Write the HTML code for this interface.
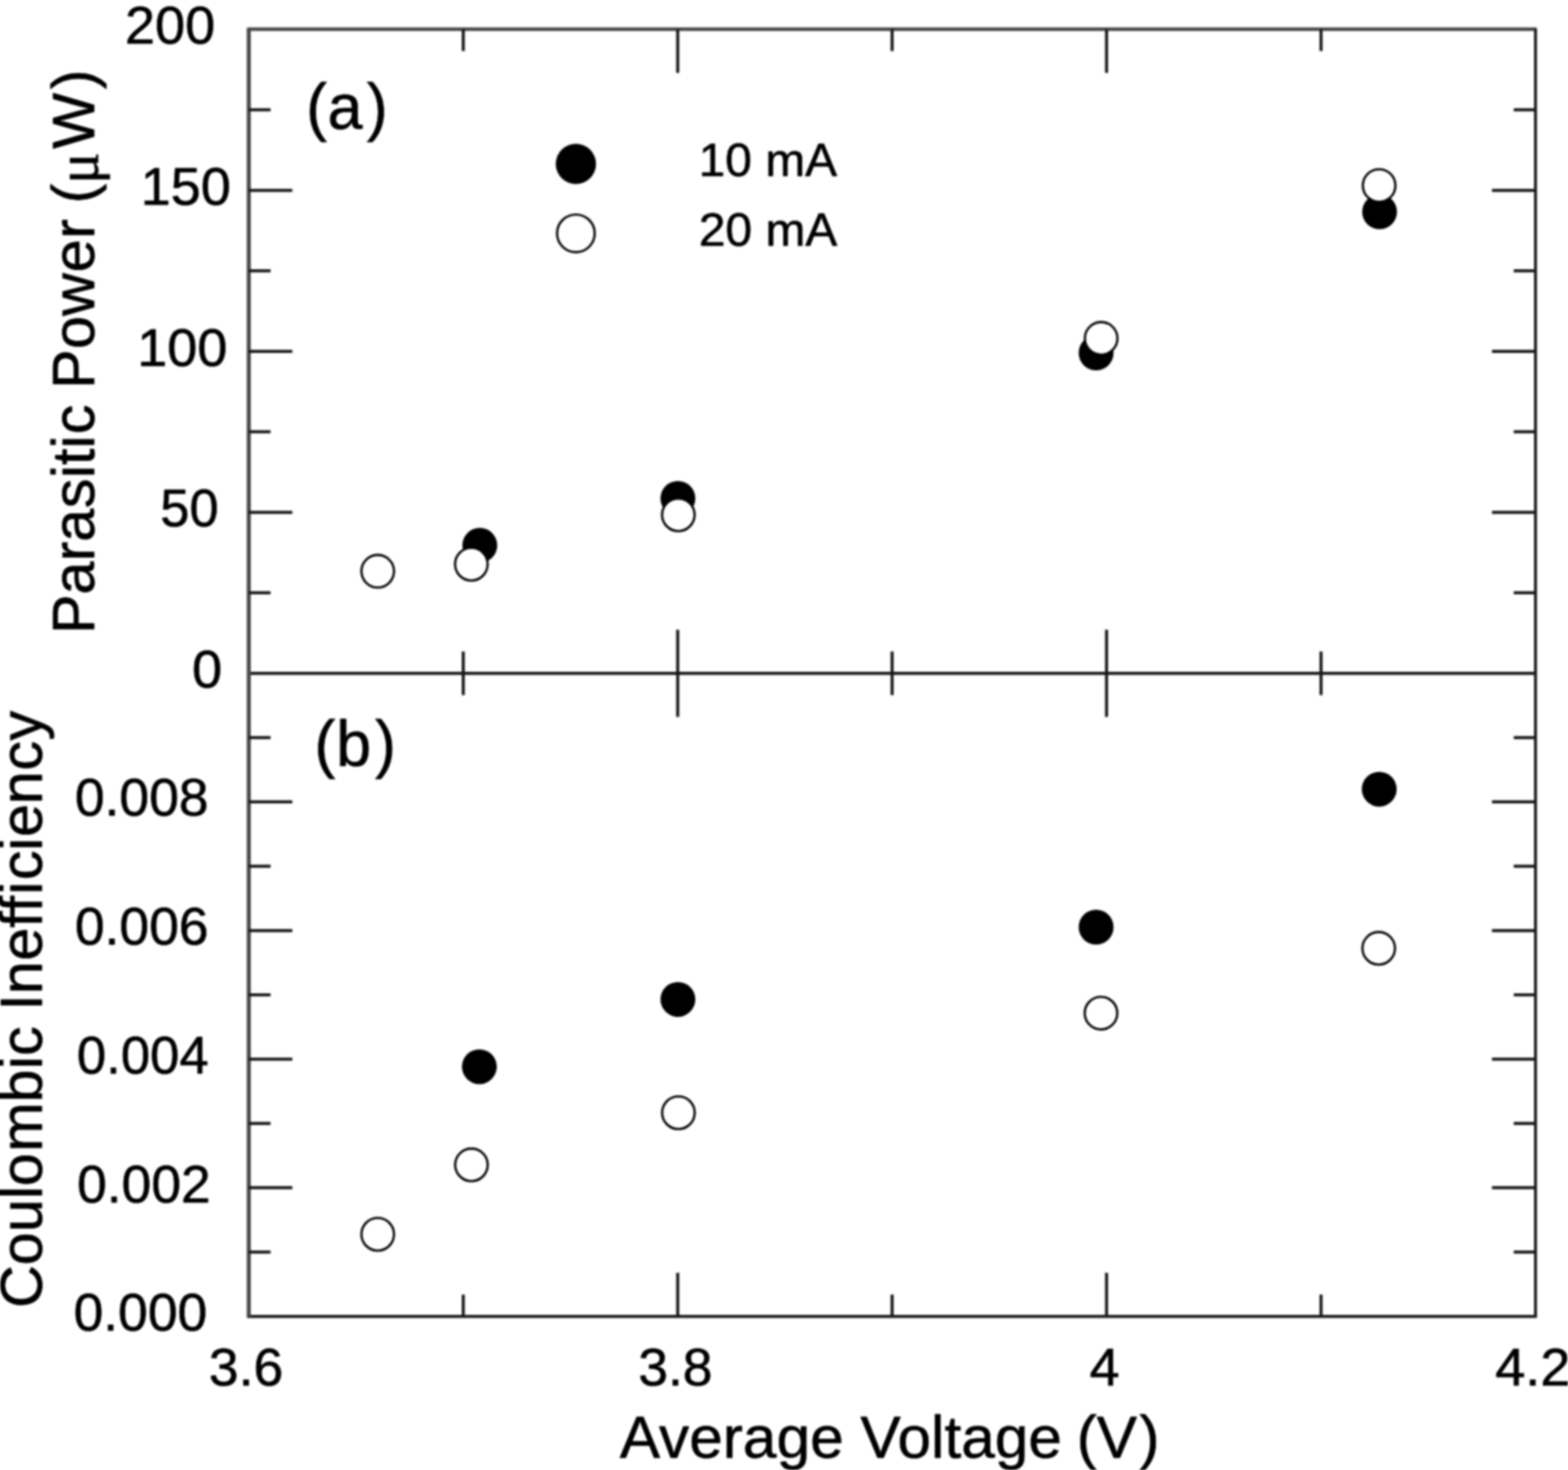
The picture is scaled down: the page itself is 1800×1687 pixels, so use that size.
<!DOCTYPE html>
<html lang="en">
<head>
<meta charset="utf-8">
<title>Parasitic Power and Coulombic Inefficiency vs Average Voltage</title>
<style>
html, body { margin: 0; padding: 0; background: #fff; }
body { width: 1800px; height: 1687px; overflow: hidden; }
svg { display: block; }
text { font-family: "Liberation Sans", sans-serif; fill: #000; stroke: #000; stroke-width: 0.7px; stroke-linejoin: round; }
</style>
</head>
<body>
<svg width="1800" height="1687" viewBox="0 0 1800 1687" role="img" aria-label="Parasitic power and coulombic inefficiency versus average voltage for 10 mA and 20 mA">
<defs>
<filter id="soft" color-interpolation-filters="sRGB" filterUnits="userSpaceOnUse" x="-20" y="-20" width="1840" height="1727">
<feGaussianBlur stdDeviation="0.8"/>
</filter>
</defs>
<rect x="-20" y="-20" width="1840" height="1727" fill="#fff"/>
<g filter="url(#soft)">
<rect x="-20" y="-20" width="1840" height="1727" fill="#fff"/>
<g stroke="#161616" stroke-width="3.5" fill="none" stroke-linecap="butt">
<line x1="283.6" y1="33.6" x2="1764.2" y2="33.6" stroke-width="4.0" stroke="#444"/>
<line x1="285.6" y1="772.7" x2="1762.7" y2="772.7" stroke-width="3.5" stroke="#141414"/>
<line x1="283.6" y1="1510.7" x2="1764.3" y2="1510.7" stroke-width="3.4" stroke="#181818"/>
<line x1="285.6" y1="33.6" x2="285.6" y2="1510.7" stroke-width="4.6" stroke="#484848"/>
<line x1="1762.7" y1="33.6" x2="1762.7" y2="1510.7" stroke-width="3.4" stroke="#181818"/>
<line x1="531.8" y1="33.6" x2="531.8" y2="58.6"/>
<line x1="531.8" y1="747.7" x2="531.8" y2="797.7"/>
<line x1="531.8" y1="1485.7" x2="531.8" y2="1510.7"/>
<line x1="778.0" y1="33.6" x2="778.0" y2="83.6"/>
<line x1="778.0" y1="722.7" x2="778.0" y2="822.7"/>
<line x1="778.0" y1="1460.7" x2="778.0" y2="1510.7"/>
<line x1="1024.1" y1="33.6" x2="1024.1" y2="58.6"/>
<line x1="1024.1" y1="747.7" x2="1024.1" y2="797.7"/>
<line x1="1024.1" y1="1485.7" x2="1024.1" y2="1510.7"/>
<line x1="1270.3" y1="33.6" x2="1270.3" y2="83.6"/>
<line x1="1270.3" y1="722.7" x2="1270.3" y2="822.7"/>
<line x1="1270.3" y1="1460.7" x2="1270.3" y2="1510.7"/>
<line x1="1516.5" y1="33.6" x2="1516.5" y2="58.6"/>
<line x1="1516.5" y1="747.7" x2="1516.5" y2="797.7"/>
<line x1="1516.5" y1="1485.7" x2="1516.5" y2="1510.7"/>
<line x1="285.6" y1="680.3" x2="310.6" y2="680.3"/>
<line x1="1737.7" y1="680.3" x2="1762.7" y2="680.3"/>
<line x1="285.6" y1="587.9" x2="335.6" y2="587.9"/>
<line x1="1712.7" y1="587.9" x2="1762.7" y2="587.9"/>
<line x1="285.6" y1="495.5" x2="310.6" y2="495.5"/>
<line x1="1737.7" y1="495.5" x2="1762.7" y2="495.5"/>
<line x1="285.6" y1="403.2" x2="335.6" y2="403.2"/>
<line x1="1712.7" y1="403.2" x2="1762.7" y2="403.2"/>
<line x1="285.6" y1="310.8" x2="310.6" y2="310.8"/>
<line x1="1737.7" y1="310.8" x2="1762.7" y2="310.8"/>
<line x1="285.6" y1="218.4" x2="335.6" y2="218.4"/>
<line x1="1712.7" y1="218.4" x2="1762.7" y2="218.4"/>
<line x1="285.6" y1="126.0" x2="310.6" y2="126.0"/>
<line x1="1737.7" y1="126.0" x2="1762.7" y2="126.0"/>
<line x1="285.6" y1="1436.9" x2="310.6" y2="1436.9"/>
<line x1="1737.7" y1="1436.9" x2="1762.7" y2="1436.9"/>
<line x1="285.6" y1="1363.1" x2="335.6" y2="1363.1"/>
<line x1="1712.7" y1="1363.1" x2="1762.7" y2="1363.1"/>
<line x1="285.6" y1="1289.3" x2="310.6" y2="1289.3"/>
<line x1="1737.7" y1="1289.3" x2="1762.7" y2="1289.3"/>
<line x1="285.6" y1="1215.5" x2="335.6" y2="1215.5"/>
<line x1="1712.7" y1="1215.5" x2="1762.7" y2="1215.5"/>
<line x1="285.6" y1="1141.7" x2="310.6" y2="1141.7"/>
<line x1="1737.7" y1="1141.7" x2="1762.7" y2="1141.7"/>
<line x1="285.6" y1="1067.9" x2="335.6" y2="1067.9"/>
<line x1="1712.7" y1="1067.9" x2="1762.7" y2="1067.9"/>
<line x1="285.6" y1="994.1" x2="310.6" y2="994.1"/>
<line x1="1737.7" y1="994.1" x2="1762.7" y2="994.1"/>
<line x1="285.6" y1="920.3" x2="335.6" y2="920.3"/>
<line x1="1712.7" y1="920.3" x2="1762.7" y2="920.3"/>
<line x1="285.6" y1="846.5" x2="310.6" y2="846.5"/>
<line x1="1737.7" y1="846.5" x2="1762.7" y2="846.5"/>
</g>
<g>
<circle cx="550.8" cy="625.8" r="20.0" fill="#000"/>
<circle cx="778.2" cy="572.0" r="20.0" fill="#000"/>
<circle cx="1258.3" cy="405.0" r="20.0" fill="#000"/>
<circle cx="1583.7" cy="243.1" r="20.0" fill="#000"/>
<circle cx="550.3" cy="1224.2" r="20.0" fill="#000"/>
<circle cx="778.2" cy="1146.9" r="20.0" fill="#000"/>
<circle cx="1258.3" cy="1064.0" r="20.0" fill="#000"/>
<circle cx="1583.3" cy="905.7" r="20.0" fill="#000"/>
<circle cx="433.6" cy="655.6" r="18.7" fill="#fff" stroke="#000" stroke-width="2.6"/>
<circle cx="541.1" cy="647.5" r="18.7" fill="#fff" stroke="#000" stroke-width="2.6"/>
<circle cx="778.7" cy="590.8" r="18.7" fill="#fff" stroke="#000" stroke-width="2.6"/>
<circle cx="1264.1" cy="388.3" r="18.7" fill="#fff" stroke="#000" stroke-width="2.6"/>
<circle cx="1583.2" cy="212.9" r="18.7" fill="#fff" stroke="#000" stroke-width="2.6"/>
<circle cx="433.6" cy="1416.5" r="18.7" fill="#fff" stroke="#000" stroke-width="2.6"/>
<circle cx="541.2" cy="1336.8" r="18.7" fill="#fff" stroke="#000" stroke-width="2.6"/>
<circle cx="778.8" cy="1277.0" r="18.7" fill="#fff" stroke="#000" stroke-width="2.6"/>
<circle cx="1263.9" cy="1162.7" r="18.7" fill="#fff" stroke="#000" stroke-width="2.6"/>
<circle cx="1582.7" cy="1088.3" r="18.7" fill="#fff" stroke="#000" stroke-width="2.6"/>
<circle cx="661.1" cy="188.2" r="23.1" fill="#000"/>
<circle cx="661.1" cy="267.8" r="21.6" fill="#fff" stroke="#000" stroke-width="2.6"/>
</g>
<g>
<text transform="translate(247.0 50.3)" font-size="62" text-anchor="end">200</text>
<text transform="translate(265.0 235.2)" font-size="62" text-anchor="end">150</text>
<text transform="translate(261.0 420.3)" font-size="62" text-anchor="end">100</text>
<text transform="translate(251.0 604.3) scale(0.970 1.000)" font-size="62" text-anchor="end">50</text>
<text transform="translate(255.0 789.3)" font-size="62" text-anchor="end">0</text>
<text transform="translate(239.5 936.3) scale(0.990 1.000)" font-size="62" text-anchor="end">0.008</text>
<text transform="translate(239.5 1083.8) scale(0.990 1.000)" font-size="62" text-anchor="end">0.006</text>
<text transform="translate(239.5 1232.0) scale(0.975 1.000)" font-size="62" text-anchor="end">0.004</text>
<text transform="translate(242.0 1380.3) scale(0.990 1.000)" font-size="62" text-anchor="end">0.002</text>
<text transform="translate(238.0 1527.3) scale(0.990 1.000)" font-size="62" text-anchor="end">0.000</text>
<text transform="translate(282.5 1590.3) scale(0.990 1.000)" font-size="62" text-anchor="middle">3.6</text>
<text transform="translate(775.3 1590.1) scale(0.990 1.000)" font-size="62" text-anchor="middle">3.8</text>
<text transform="translate(1268.0 1590.3)" font-size="62" text-anchor="middle">4</text>
<text transform="translate(1716.5 1590.3)" font-size="62" text-anchor="start">4.2</text>
<text transform="translate(351.5 147.5) scale(1.000 1.020)" font-size="72" text-anchor="start" dx="0 0.5 5">(a)</text>
<text transform="translate(361.0 879.0) scale(1.000 1.020)" font-size="72" text-anchor="start" dx="0 1 4.5">(b)</text>
<text transform="translate(802.0 201.6) scale(1.000 0.980)" font-size="55" text-anchor="start">10 mA</text>
<text transform="translate(802.2 281.6) scale(1.000 0.980)" font-size="55" text-anchor="start">20 mA</text>
<text transform="translate(1021.3 1673.2) scale(1.000 0.980)" font-size="69.3" text-anchor="middle" dx="0 0 0 0 0 0 0 0 0 0 0 0 0 0 0 0 -2.3 0 2.6">Average Voltage (V)</text>
<text transform="translate(107.7 727.5) rotate(-90)" font-size="68" text-anchor="start" dx="0 0 0 0 0.5 0.5 0 0 1.5 0 -1 0.5 0 1 0.7 0 -1.2 -0.2 3.9 4.1" dy="0 0 0 0 0 0 0 0 0 0 0 0 0 0 0 0 0 4.5 -4.5 0">Parasitic Power (<tspan font-family="'Liberation Serif', 'DejaVu Serif', serif">μ</tspan>W)</text>
<text transform="translate(48.2 1501.0) rotate(-90)" font-size="68" text-anchor="start" dx="0 0 0 0 0 1.5 0 0 0.5 0 -1 0 0.5 0 0 1.5 1.5 -0.5 1 -0.5 1 0.5">Coulombic Inefficiency</text>
</g>
</g>
</svg>
</body>
</html>
